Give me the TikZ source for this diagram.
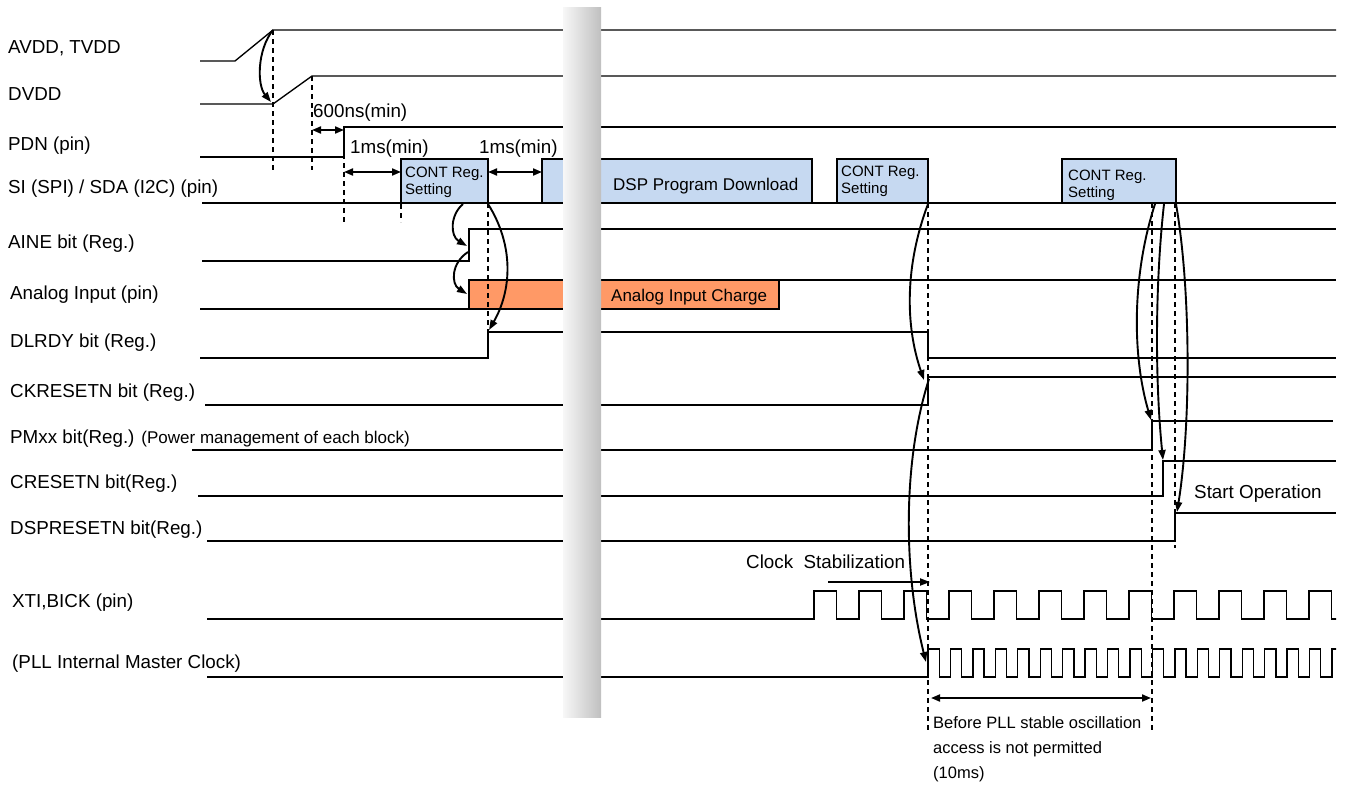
\documentclass[tikz,border=0pt]{standalone}
\usepackage{fontspec}
\setmainfont{Liberation Sans}
\usetikzlibrary{arrows.meta}
\definecolor{regblue}{HTML}{C6D9F1}
\definecolor{chargeorange}{HTML}{FF9966}
\pgfdeclarehorizontalshading{barshade}{100bp}{color(0bp)=(black!18); color(18bp)=(white); color(82bp)=(black!28); color(100bp)=(black!25)}

\begin{document}
\begin{tikzpicture}[x=1pt,y=-1pt,
  sig/.style={line width=1.35pt},
  guide/.style={line width=1.2pt, dash pattern=on 5pt off 4pt},
  cause/.style={line width=1.9pt, -{Triangle[length=10pt,width=7pt]}},
  span/.style={line width=1.9pt, {Triangle[length=9pt,width=7pt]}-{Triangle[length=9pt,width=7pt]}},
  lbl/.style={font=\fontsize{18.8}{22}\selectfont, anchor=base west, inner sep=0pt},
  boxtxt/.style={font=\fontsize{15}{17}\selectfont, anchor=north west, inner sep=0pt, align=left},
  note/.style={font=\fontsize{16.5}{25}\selectfont, anchor=base west, inner sep=0pt}]
\useasboundingbox (0,0) rectangle (1346,787);

% Signal names
\foreach \name/\txt/\x/\y in {avdd/{AVDD, TVDD}/8/53, dvdd/{DVDD}/8/100, pdn/{PDN (pin)}/8/150,
    si/{SI (SPI) / SDA (I2C) (pin)}/8/193, aine/{AINE bit (Reg.)}/8/248, ana/{Analog Input (pin)}/10/299,
    dlrdy/{DLRDY bit (Reg.)}/10/347, ck/{CKRESETN bit (Reg.)}/10/397,
    pm/{PMxx bit(Reg.) {\fontsize{17}{20}\selectfont(Power management of each block)}}/10/443,
    cr/{CRESETN bit(Reg.)}/10/488, dsp/{DSPRESETN bit(Reg.)}/10/534, xti/{XTI,BICK (pin)}/12/607,
    pll/{(PLL Internal Master Clock)}/12/668} {
  \node[lbl] (lbl-\name) at (\x,\y) {\txt};
}

% Levels
\draw[sig] (200,61) -- (235,61) -- (273,30) -- (1336,30);
\draw[sig] (200,104) -- (273,104) -- (312,76) -- (1336,76);
\draw[sig] (200,157) -- (344,157) -- (344,127) -- (1336,127);
\draw[sig] (202,203) -- (1336,203);
\draw[sig] (202,261) -- (469,261) -- (469,229) -- (1336,229);
\draw[sig] (200,309) -- (469,309) -- (469,280) -- (1336,280);
\draw[sig] (200,358) -- (488,358) -- (488,332) -- (928,332) -- (928,358) -- (1336,358);
\draw[sig] (205,405) -- (928,405) -- (928,377) -- (1336,377);
\draw[sig] (192,450) -- (1152,450) -- (1152,421) -- (1333,421);
\draw[sig] (198,496) -- (1163,496) -- (1163,461) -- (1336,461);
\draw[sig] (207,541) -- (1175,541) -- (1175,513) -- (1336,513);

% Clocks
\begin{scope}
  \clip (0,0) rectangle (1336,787);
  \draw[sig] (207,619) -- (814,619)
    \foreach \k in {0,...,11} { -- ++(0,-28) -- ++(22.5,0) -- ++(0,28) -- ++(22.5,0) };
  \draw[sig] (207,677) -- (928,677)
    \foreach \k in {0,...,18} { -- ++(0,-28) -- ++(11.22,0) -- ++(0,28) -- ++(11.22,0) };
\end{scope}

% Register accesses
\draw[sig, fill=regblue] (401,159) rectangle (488,203);
\draw[sig, fill=regblue] (542,159) rectangle (812,203);
\draw[sig, fill=regblue] (837,159) rectangle (928,203);
\draw[sig, fill=regblue] (1062,159) rectangle (1176,203);
\node[boxtxt] (cont1) at (405,167) {CONT Reg.\\Setting};
\node[boxtxt] (cont2) at (841,166) {CONT Reg.\\Setting};
\node[boxtxt] (cont3) at (1068,170) {CONT Reg.\\Setting};
\node[font=\fontsize{17}{20}\selectfont, anchor=base west, inner sep=0pt] (dspdl) at (613,190) {DSP Program Download};
\draw[sig, fill=chargeorange] (469,280) rectangle (779,309);
\node[font=\fontsize{17}{20}\selectfont, anchor=base west, inner sep=0pt] (charge) at (611,301) {Analog Input Charge};

% Guides
\draw[guide] (273,30) -- (273,170);
\draw[guide] (312,76) -- (312,170);
\draw[guide] (344,127) -- (344,222);
\draw[guide] (401,159) -- (401,222);
\draw[guide] (488,203) -- (488,358);
\draw[guide] (928,203) -- (928,732);
\draw[guide] (1152,203) -- (1152,732);
\draw[guide] (1175,203) -- (1175,548);

% Timing labels
\node[lbl] (t600) at (313,117) {600ns(min)};
\node[lbl] (t1a) at (350,153) {1ms(min)};
\node[lbl] (t1b) at (479,153) {1ms(min)};
\node[lbl] (stab) at (746,568) {Clock\ \ Stabilization};
\node[lbl] (start) at (1194,498) {Start Operation};
\node[note] (wait1) at (933,728) {Before PLL stable oscillation};
\node[note] (wait2) at (933,753) {access is not permitted};
\node[note] (wait3) at (933,778) {(10ms)};

% Arrow ends
\coordinate (avddTop) at (273,30);
\coordinate (dvddUp) at (271,102);
\coordinate (cont1A) at (463,204);
\coordinate (aineUp) at (467,246);
\coordinate (aineMid) at (468,252);
\coordinate (anaUp) at (467,294);
\coordinate (cont1B) at (488,204);
\coordinate (dlrdyUp) at (489,330);
\coordinate (cont2B) at (928,204);
\coordinate (ckUp) at (924,380);
\coordinate (ckFrom) at (929,379);
\coordinate (pllUp) at (926,662);
\coordinate (cont3A) at (1155,204);
\coordinate (pmUp) at (1151,420);
\coordinate (cont3B) at (1164,204);
\coordinate (crUp) at (1163,460);
\coordinate (cont3C) at (1176,204);
\coordinate (dspUp) at (1177,512);
\coordinate (pdnL) at (312,130);
\coordinate (pdnR) at (344,130);
\coordinate (ms1L) at (344,172);
\coordinate (ms1R) at (401,172);
\coordinate (ms2L) at (488,172);
\coordinate (ms2R) at (542,172);
\coordinate (stabFrom) at (828,582);
\coordinate (stabTo) at (930,582);
\coordinate (waitL) at (931,698);
\coordinate (waitR) at (1151,698);

% Intervals
\draw[span] (pdnL) -- (pdnR);
\draw[span] (ms1L) -- (ms1R);
\draw[span] (ms2L) -- (ms2R);
\draw[span] (waitL) -- (waitR);
\draw[cause] (stabFrom) -- (stabTo);

% Sequence arrows
\draw[cause] (avddTop) .. controls (257,50) and (257,85) .. (dvddUp);
\draw[cause] (cont1A) .. controls (450,215) and (450,236) .. (aineUp);
\draw[cause] (aineMid) .. controls (451,263) and (451,284) .. (anaUp);
\draw[cause] (cont1B) .. controls (514,245) and (512,290) .. (dlrdyUp);
\draw[cause] (cont2B) .. controls (905,265) and (905,325) .. (ckUp);
\draw[cause] (ckFrom) .. controls (903,460) and (903,570) .. (pllUp);
\draw[cause] (cont3A) .. controls (1132,275) and (1132,355) .. (pmUp);
\draw[cause] (cont3B) .. controls (1155,285) and (1155,380) .. (crUp);
\draw[cause] (cont3C) .. controls (1191,290) and (1191,425) .. (dspUp);

% Break bar
\shade[shading=barshade] (563,7) rectangle (601,717);
\end{tikzpicture}
\end{document}
